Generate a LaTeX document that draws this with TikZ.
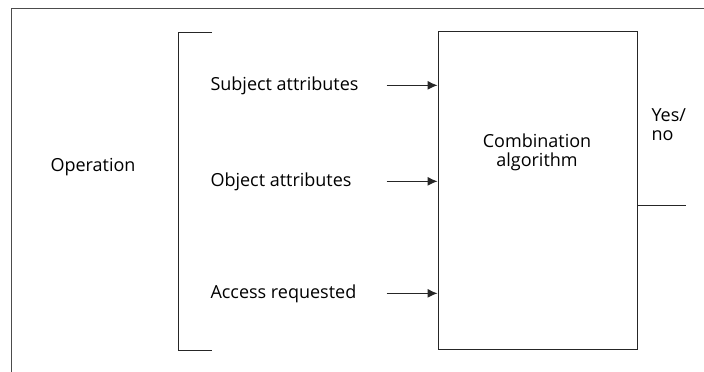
\documentclass[tikz,border=0pt]{standalone}
\usepackage{fontspec}
\setmainfont{Open Sans}
\usetikzlibrary{positioning,arrows.meta}
\tikzset{arrow/.style = {line width=1pt,-{Latex[length=10pt,width=9pt]}}}
\tikzset{lbl/.style = {font=\fontsize{18}{19}\selectfont, text=black, inner sep=0pt, anchor=base west}}

\begin{document}
\begin{tikzpicture}[x=1pt,y=-1pt,line width=1pt,color=black!85]
\useasboundingbox (0,0) rectangle (704,372);
% frame edges
\draw[black!70] (11,372) -- (11,8) -- (704,8);

% bracket round the inputs
\draw (212,32) -- (178,32) -- (178,350) -- (212,350);

\node[draw, minimum width=199pt, minimum height=318pt, inner sep=0pt] (box) at (537.5,190) {};
\node[lbl, anchor=base] (comb) at (537,147) {Combination};
\node[lbl, anchor=base] (algo) at (537,166) {algorithm};

\node[lbl] (oper) at (50,171) {Operation};
\node[lbl] (subj) at (210,90) {Subject attributes};
\node[lbl] (obj) at (210,186) {Object attributes};
\node[lbl] (acc) at (210,298) {Access requested};

\draw[arrow] ([xshift=-51pt]subj -| box.west) -- (subj -| box.west);
\draw[arrow] ([xshift=-51pt]obj -| box.west) -- (obj -| box.west);
\draw[arrow] ([xshift=-51pt]acc -| box.west) -- (acc -| box.west);

% output
\coordinate (out) at (686,205);
\draw (out -| box.east) -- (out);
\node[lbl] (yes) at (651,121) {Yes/};
\node[lbl] (no) at (651,140) {no};
\end{tikzpicture}
\end{document}
